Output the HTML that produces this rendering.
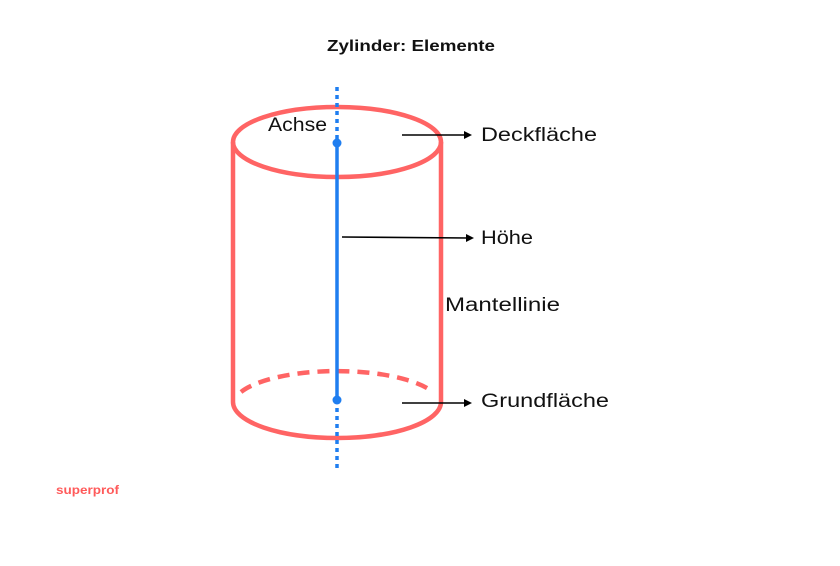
<!DOCTYPE html>
<html><head><style>
body{margin:0;background:#fff;}
svg text{font-family:"Liberation Sans",sans-serif;}
</style></head><body>
<svg width="840" height="561" viewBox="0 0 840 561" xmlns="http://www.w3.org/2000/svg">
<rect width="840" height="561" fill="#fff"/>
<text x="327" y="51" font-size="16" font-weight="bold" fill="#111" textLength="168" lengthAdjust="spacingAndGlyphs">Zylinder: Elemente</text>
<g stroke="#ff6464" stroke-width="4.5" fill="none">
<ellipse cx="337" cy="142" rx="104" ry="35"/>
<line x1="233" y1="142" x2="233" y2="402"/>
<line x1="441" y1="142" x2="441" y2="402"/>
<path d="M233 402 A104 36 0 0 0 441 402"/>
<path d="M241 392 A104 34 0 0 1 433 392" stroke-dasharray="12 8"/>
</g>
<g stroke="#1f7ef0" stroke-width="3.5">
<line x1="337" y1="87" x2="337" y2="142" stroke-dasharray="4 4"/>
<line x1="337" y1="142" x2="337" y2="400"/>
<line x1="337" y1="400" x2="337" y2="470" stroke-dasharray="4 4"/>
</g>
<circle cx="337" cy="143" r="4.5" fill="#1f7ef0"/>
<circle cx="337" cy="400" r="4.5" fill="#1f7ef0"/>
<g stroke="#000" stroke-width="1.6">
<line x1="402" y1="135" x2="466" y2="135"/>
<line x1="342" y1="237" x2="468" y2="238"/>
<line x1="402" y1="403" x2="466" y2="403"/>
</g>
<g fill="#000">
<path d="M472 135 L464 131 L464 139Z"/>
<path d="M474 238 L466 234 L466 242Z"/>
<path d="M472 403 L464 399 L464 407Z"/>
</g>
<g font-size="19" fill="#111">
<text x="268" y="131" textLength="59" lengthAdjust="spacingAndGlyphs">Achse</text>
<text x="481" y="141" textLength="116" lengthAdjust="spacingAndGlyphs">Deckfläche</text>
<text x="481" y="244" textLength="52" lengthAdjust="spacingAndGlyphs">Höhe</text>
<text x="445" y="311" textLength="115" lengthAdjust="spacingAndGlyphs">Mantellinie</text>
<text x="481" y="407" textLength="128" lengthAdjust="spacingAndGlyphs">Grundfläche</text>
</g>
<text x="56" y="494" font-size="12" font-weight="bold" fill="#ff5a5a" textLength="63" lengthAdjust="spacingAndGlyphs">superprof</text>
</svg>
</body></html>
